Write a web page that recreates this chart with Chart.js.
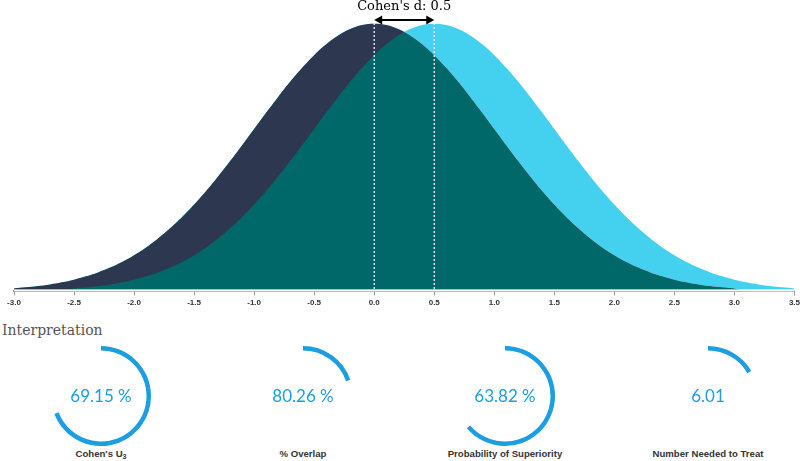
<!DOCTYPE html>
<html>
<head>
<meta charset="utf-8">
<script src="https://cdn.jsdelivr.net/npm/chart.js@4.4.1/dist/chart.umd.min.js"></script>
<style>
  body { margin: 0; background: #fff; width: 800px; height: 461px; position: relative; overflow: hidden; }
  #distChart { position: absolute; left: 0; top: 0; }
  .title { position: absolute; left: 2px; top: 322px; font: 14px "DejaVu Serif", serif; color: #555; }
  .gauge { position: absolute; }
  .glabel { position: absolute; width: 200px; text-align: center; font: bold 9.6px "Liberation Sans", Arial, sans-serif; color: #333; }
  .glabel sub { font-size: 7px; vertical-align: -2px; }
</style>
</head>
<body>
<canvas id="distChart" width="803" height="320"></canvas>
<div class="title">Interpretation</div>

<script>
// x positions (standard deviations)
const xValues = [-3.0, -2.9, -2.8, -2.7, -2.6, -2.5, -2.4, -2.3, -2.2, -2.1,
    -2.0, -1.9, -1.8, -1.7, -1.6, -1.5, -1.4, -1.3, -1.2, -1.1,
    -1.0, -0.9, -0.8, -0.7, -0.6, -0.5, -0.4, -0.3, -0.2, -0.1,
    0.0, 0.1, 0.2, 0.3, 0.4, 0.5, 0.6, 0.7, 0.8, 0.9,
    1.0, 1.1, 1.2, 1.3, 1.4, 1.5, 1.6, 1.7, 1.8, 1.9,
    2.0, 2.1, 2.2, 2.3, 2.4, 2.5, 2.6, 2.7, 2.8, 2.9,
    3.0, 3.1, 3.2, 3.3, 3.4, 3.5];

// control group density (mean 0)
const controlDensity = [0.0044, 0.0060, 0.0079, 0.0104, 0.0136, 0.0175, 0.0224, 0.0283, 0.0355, 0.0440,
    0.0540, 0.0656, 0.0790, 0.0940, 0.1109, 0.1295, 0.1497, 0.1714, 0.1942, 0.2179,
    0.2420, 0.2661, 0.2897, 0.3123, 0.3332, 0.3521, 0.3683, 0.3814, 0.3910, 0.3970,
    0.3989, 0.3970, 0.3910, 0.3814, 0.3683, 0.3521, 0.3332, 0.3123, 0.2897, 0.2661,
    0.2420, 0.2179, 0.1942, 0.1714, 0.1497, 0.1295, 0.1109, 0.0940, 0.0790, 0.0656,
    0.0540, 0.0440, 0.0355, 0.0283, 0.0224, 0.0175, 0.0136, 0.0104, 0.0079, 0.0060,
    0.0044, 0.0000, 0.0000, 0.0000, 0.0000, 0.0000];

// treatment group density (mean 0.5)
const treatmentDensity = [0.0000, 0.0000, 0.0000, 0.0000, 0.0000, 0.0044, 0.0060, 0.0079, 0.0104, 0.0136,
    0.0175, 0.0224, 0.0283, 0.0355, 0.0440, 0.0540, 0.0656, 0.0790, 0.0940, 0.1109,
    0.1295, 0.1497, 0.1714, 0.1942, 0.2179, 0.2420, 0.2661, 0.2897, 0.3123, 0.3332,
    0.3521, 0.3683, 0.3814, 0.3910, 0.3970, 0.3989, 0.3970, 0.3910, 0.3814, 0.3683,
    0.3521, 0.3332, 0.3123, 0.2897, 0.2661, 0.2420, 0.2179, 0.1942, 0.1714, 0.1497,
    0.1295, 0.1109, 0.0940, 0.0790, 0.0656, 0.0540, 0.0440, 0.0355, 0.0283, 0.0224,
    0.0175, 0.0136, 0.0104, 0.0079, 0.0060, 0.0044];

const cohensD = 0.5;

// gauges
const gaugeLabels = ["Cohen's U<sub>3</sub>", '% Overlap', 'Probability of Superiority', 'Number Needed to Treat'];
const gaugeTexts = ['69.15 %', '80.26 %', '63.82 %', '6.01'];
const gaugeArcs = [69.15, 19.74, 63.82, 16.64];   // share of circle drawn
const gaugeCentersX = [101, 303, 505, 708];

const NAVY = '#2e3750';
const CYAN = '#44d1f0';
const TEAL = '#006869';
const BLUE = '#1b9ee2';

// dashed mean lines + arrow + label
const cohenPlugin = {
    id: 'cohen',
    afterDatasetsDraw(chart) {
        const ctx = chart.ctx;
        const xs = chart.scales.x;
        const x0 = xs.getPixelForValue(0);
        const x1 = xs.getPixelForValue(cohensD);
        const bottom = chart.chartArea.bottom;
        const arrowY = 20;

        ctx.save();
        // thin white gap above the axis line
        ctx.fillStyle = '#fff';
        ctx.fillRect(chart.chartArea.left, bottom - 2, chart.chartArea.width, 2);

        ctx.strokeStyle = '#ffffff';
        ctx.lineWidth = 1.2;
        ctx.setLineDash([2, 2]);
        [x0, x1].forEach(x => {
            ctx.beginPath();
            ctx.moveTo(x, arrowY + 3);
            ctx.lineTo(x, bottom - 2);
            ctx.stroke();
        });
        ctx.setLineDash([]);

        // double arrow
        ctx.strokeStyle = '#000';
        ctx.fillStyle = '#000';
        ctx.lineWidth = 2;
        ctx.beginPath();
        ctx.moveTo(x0 + 5, arrowY);
        ctx.lineTo(x1 - 5, arrowY);
        ctx.stroke();
        ctx.beginPath();
        ctx.moveTo(x0, arrowY);
        ctx.lineTo(x0 + 8, arrowY - 4.5);
        ctx.lineTo(x0 + 8, arrowY + 4.5);
        ctx.closePath();
        ctx.fill();
        ctx.beginPath();
        ctx.moveTo(x1, arrowY);
        ctx.lineTo(x1 - 8, arrowY - 4.5);
        ctx.lineTo(x1 - 8, arrowY + 4.5);
        ctx.closePath();
        ctx.fill();

        ctx.font = '13px "DejaVu Serif", serif';
        ctx.textAlign = 'center';
        ctx.textBaseline = 'middle';
        ctx.fillText("Cohen's d: " + cohensD, (x0 + x1) / 2, 7);
        ctx.restore();
    }
};

new Chart(document.getElementById('distChart').getContext('2d'), {
    type: 'line',
    data: {
        datasets: [{
            label: 'Control',
            data: xValues.map((x, i) => ({ x: x, y: controlDensity[i] })),
            backgroundColor: TEAL,
            borderWidth: 0,
            pointRadius: 0,
            fill: 'origin',
            tension: 0.4,
            order: 2
        }, {
            label: 'Treatment',
            data: xValues.map((x, i) => ({ x: x, y: treatmentDensity[i] })),
            borderWidth: 0,
            pointRadius: 0,
            fill: { target: 0, above: CYAN, below: NAVY },
            tension: 0.4,
            order: 1
        }]
    },
    options: {
        responsive: false,
        animation: false,
        layout: { padding: { left: 14, right: 0, top: 23, bottom: 9 } },
        plugins: {
            legend: { display: false },
            tooltip: { enabled: false }
        },
        scales: {
            x: {
                type: 'linear',
                min: -3,
                max: 3.5,
                border: { color: '#999', width: 2 },
                grid: { drawOnChartArea: false, tickLength: 4, color: '#999' },
                ticks: {
                    stepSize: 0.5,
                    maxRotation: 0,
                    autoSkip: false,
                    padding: 3,
                    color: '#333',
                    font: { family: '"Liberation Sans", Arial, sans-serif', size: 8, weight: 'bold' },
                    callback: function(value) {
                        return value.toFixed(1);
                    }
                }
            },
            y: {
                display: false,
                min: 0,
                max: 0.4
            }
        }
    },
    plugins: [cohenPlugin]
});

// center text for gauges
const centerTextPlugin = {
    id: 'centerText',
    afterDraw(chart) {
        const ctx = chart.ctx;
        const meta = chart.getDatasetMeta(0).data[0];
        ctx.save();
        ctx.font = '17px Lato, sans-serif';
        ctx.fillStyle = BLUE;
        ctx.textAlign = 'center';
        ctx.textBaseline = 'middle';
        ctx.fillText(chart.options.plugins.centerText.text, meta.x, meta.y + 1);
        ctx.restore();
    }
};

const GAUGE_SIZE = 104;
const GAUGE_CY = 396;

gaugeArcs.forEach((arc, i) => {
    const canvas = document.createElement('canvas');
    canvas.width = GAUGE_SIZE;
    canvas.height = GAUGE_SIZE;
    canvas.className = 'gauge';
    canvas.style.left = (gaugeCentersX[i] - GAUGE_SIZE / 2) + 'px';
    canvas.style.top = (GAUGE_CY - GAUGE_SIZE / 2) + 'px';
    document.body.appendChild(canvas);

    new Chart(canvas.getContext('2d'), {
        type: 'doughnut',
        data: {
            datasets: [{
                data: [arc, 100 - arc],
                backgroundColor: [BLUE, 'rgba(0,0,0,0)'],
                borderWidth: 0
            }]
        },
        options: {
            responsive: false,
            animation: false,
            cutout: '91%',
            layout: { padding: 2 },
            plugins: {
                legend: { display: false },
                tooltip: { enabled: false },
                centerText: { text: gaugeTexts[i] }
            }
        },
        plugins: [centerTextPlugin]
    });

    const label = document.createElement('div');
    label.className = 'glabel';
    label.innerHTML = gaugeLabels[i];
    label.style.left = (gaugeCentersX[i] - 100) + 'px';
    label.style.top = '448px';
    document.body.appendChild(label);
});
</script>
</body>
</html>
